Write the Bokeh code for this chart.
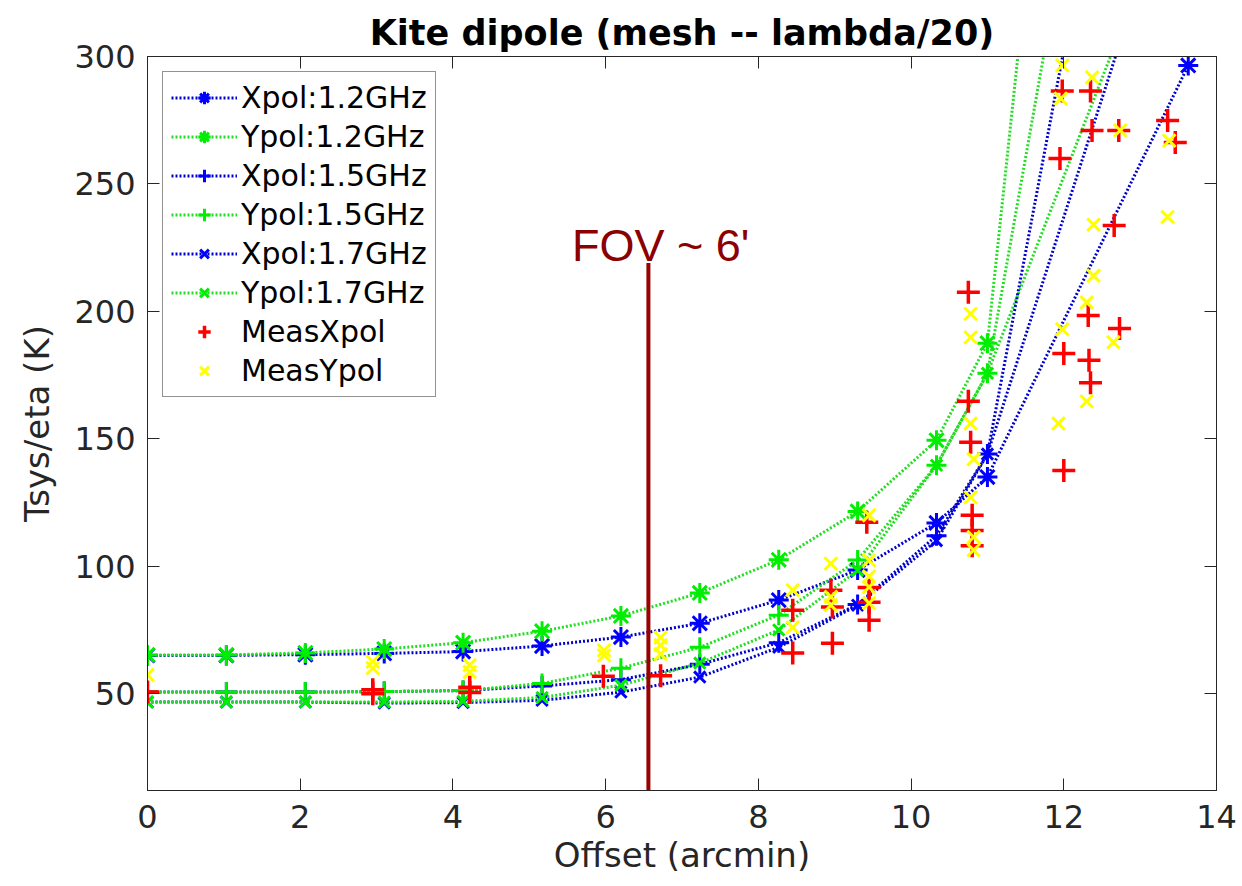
from bokeh.plotting import figure
from bokeh.models import Range1d, LinearAxis, FixedTicker
from bokeh.embed import file_html
from bokeh.resources import INLINE
from bokeh.core.properties import value

# ---------------- data ----------------
title_text = "Kite dipole (mesh -- lambda/20)"
x_label = "Offset (arcmin)"
y_label = "Tsys/eta (K)"
x_ticks = [0, 2, 4, 6, 8, 10, 12, 14]
y_ticks = [50, 100, 150, 200, 250, 300]

x_base = [0, 1.033, 2.067, 3.1, 4.133, 5.167, 6.2, 7.233, 8.267, 9.3, 10.333, 11.0]

xpol12_x = x_base + [13.63]
xpol12_y = [65.0, 65.0, 65.3, 65.8, 66.5, 68.7, 72.2, 77.6, 86.7, 98.5, 117.0, 135.0, 296.5]

ypol12_x = x_base + [12.0]
ypol12_y = [65.2, 65.2, 66.0, 67.5, 70.0, 74.5, 80.5, 89.5, 102.5, 121.5, 149.4, 187.5, 470.0]

xpol15_x = x_base + [13.0]
xpol15_y = [50.6, 50.6, 50.6, 50.8, 51.2, 53.0, 55.5, 61.5, 70.0, 85.0, 112.0, 144.0, 330.0]

ypol15_x = x_base + [13.0]
ypol15_y = [50.6, 50.6, 50.6, 50.8, 51.2, 54.0, 60.0, 68.2, 80.8, 102.4, 139.6, 175.7, 330.0]

xpol17_x = x_base + [12.3]
xpol17_y = [46.7, 46.7, 46.7, 46.3, 46.5, 47.4, 50.6, 56.5, 68.2, 84.7, 110.0, 144.0, 350.0]

ypol17_x = x_base + [12.0]
ypol17_y = [46.7, 46.7, 46.7, 46.7, 47.0, 48.5, 53.3, 62.0, 75.0, 98.4, 139.6, 175.7, 345.0]

meas_x_off = [0.0, 2.95, 2.95, 4.22, 4.22, 5.97, 6.72,
              8.45, 8.45, 8.95, 8.97, 8.97,
              9.42, 9.45, 9.45, 9.45,
              10.75, 10.75, 10.78, 10.8, 10.8, 10.8,
              11.98, 11.95, 12.0, 12.0,
              12.35, 12.37, 12.32, 12.33, 12.35,
              12.72, 12.66, 12.73,
              13.36, 13.46]
meas_x_val = [50.6, 51.5, 50.0, 52.5, 50.5, 56.8, 57.0,
              82.7, 66.0, 90.6, 84.0, 69.8,
              117.3, 91.7, 85.9, 78.8,
              207.5, 164.7, 148.6, 120.0, 114.0, 108.0,
              286.5, 260.0, 183.5, 137.6,
              286.5, 271.0, 198.4, 180.8, 172.0,
              271.0, 233.7, 193.3,
              274.9, 266.3]

meas_y_off = [0.0, 2.95, 2.95, 4.22, 4.22, 5.98, 5.98, 6.72, 6.72, 6.72,
              8.45, 8.45, 8.95, 8.95, 8.95,
              9.45, 9.45, 9.45, 9.45, 9.45,
              10.78, 10.78, 10.78, 10.82, 10.78, 10.82, 10.82,
              11.98, 11.96, 11.98, 11.93,
              12.37, 12.39, 12.39, 12.3, 12.3,
              12.74, 12.65,
              13.38, 13.36]
meas_y_val = [57.3, 60.0, 62.5, 61.2, 58.5, 65.0, 67.0, 72.0, 69.0, 65.5,
              90.6, 76.0, 101.0, 88.0, 84.7,
              120.0, 102.3, 96.0, 91.8, 85.5,
              199.0, 189.8, 156.0, 142.0, 127.0, 111.4, 106.3,
              296.5, 283.5, 193.0, 156.0,
              291.8, 234.0, 214.0, 203.5, 164.7,
              271.0, 187.9,
              267.0, 237.0]

fov_x = 6.56
fov_y0 = 12.0
fov_y1 = 219.0
fov_label = "FOV ~ 6'"
fov_label_x = 6.72
fov_label_y = 225.8

# ---------------- styles ----------------
BLUE_L = "#0000cc"
BLUE_M = "#0000ff"
GREEN_L = "#22dd22"
GREEN_M = "#00ee00"
DARK = "#262626"
FONT = "DejaVu Sans"

p = figure(width=1242, height=886, output_backend="svg", toolbar_location=None,
           x_range=Range1d(0, 14), y_range=Range1d(12, 300),
           min_border_left=147, min_border_right=26, min_border_top=56, min_border_bottom=96,
           background_fill_color="white", border_fill_color="white")

p.title.text = title_text
p.title.align = "center"
p.title.text_font = FONT
p.title.text_font_size = "35px"
p.title.text_font_style = "bold"
p.title.text_color = "black"
p.title.standoff = 8

p.xgrid.visible = False
p.ygrid.visible = False
p.outline_line_color = DARK
p.outline_line_width = 1

for ax in (p.xaxis[0], p.yaxis[0]):
    ax.major_tick_in = 12
    ax.major_tick_out = 0
    ax.minor_tick_in = 0
    ax.minor_tick_out = 0
    ax.axis_line_color = DARK
    ax.major_tick_line_color = DARK
    ax.major_label_text_color = DARK
    ax.major_label_text_font = FONT
    ax.major_label_text_font_size = "32px"
    ax.axis_label_text_font = FONT
    ax.axis_label_text_font_size = "34px"
    ax.axis_label_text_font_style = "normal"
    ax.axis_label_text_color = DARK

p.xaxis[0].ticker = FixedTicker(ticks=x_ticks)
p.yaxis[0].ticker = FixedTicker(ticks=y_ticks)
p.xaxis[0].axis_label = x_label
p.yaxis[0].axis_label = y_label
p.xaxis[0].major_label_standoff = 14
p.yaxis[0].major_label_standoff = 12
p.xaxis[0].axis_label_standoff = 4
p.yaxis[0].axis_label_standoff = 14

top_ax = LinearAxis(ticker=FixedTicker(ticks=x_ticks),
                    major_label_overrides={t: "" for t in x_ticks},
                    major_tick_in=12, major_tick_out=0, minor_tick_in=0, minor_tick_out=0,
                    axis_line_color=DARK, major_tick_line_color=DARK, major_label_standoff=0)
right_ax = LinearAxis(ticker=FixedTicker(ticks=y_ticks),
                      major_label_overrides={t: "" for t in y_ticks},
                      major_tick_in=12, major_tick_out=0, minor_tick_in=0, minor_tick_out=0,
                      axis_line_color=DARK, major_tick_line_color=DARK, major_label_standoff=0)
p.add_layout(top_ax, "above")
p.add_layout(right_ax, "right")

series = [
    (xpol12_x, xpol12_y, BLUE_L, BLUE_M, "asterisk", 20, "Xpol:1.2GHz"),
    (ypol12_x, ypol12_y, GREEN_L, GREEN_M, "asterisk", 20, "Ypol:1.2GHz"),
    (xpol15_x, xpol15_y, BLUE_L, BLUE_M, "cross", 20, "Xpol:1.5GHz"),
    (ypol15_x, ypol15_y, GREEN_L, GREEN_M, "cross", 20, "Ypol:1.5GHz"),
    (xpol17_x, xpol17_y, BLUE_L, BLUE_M, "x", 16, "Xpol:1.7GHz"),
    (ypol17_x, ypol17_y, GREEN_L, GREEN_M, "x", 16, "Ypol:1.7GHz"),
]
for xs, ys, lc, mc, mk, sz, lab in series:
    p.line(xs, ys, line_color=lc, line_width=3, line_dash="2 2", legend_label=lab)
    p.scatter(xs, ys, marker=mk, size=sz, line_color=mc, line_width=3, legend_label=lab)

p.scatter(meas_x_off, meas_x_val, marker="cross", size=23, line_color="#ff0000",
          line_width=3.5, legend_label="MeasXpol")
p.scatter(meas_y_off, meas_y_val, marker="x", size=18, line_color="#ffff00",
          line_width=3, legend_label="MeasYpol")

p.segment(x0=[fov_x], y0=[fov_y0], x1=[fov_x], y1=[fov_y1], line_color="#990000", line_width=4)
p.text(x=[fov_label_x], y=[fov_label_y], text=[fov_label], text_font=value("Liberation Sans"),
       text_font_size="45px", text_color="#8b0000", text_align="center", text_baseline="alphabetic")

lg = p.legend[0]
lg.location = "top_left"
lg.margin = 15
lg.padding = 8
lg.spacing = 4
lg.glyph_height = 31
lg.label_height = 31
lg.glyph_width = 66
lg.label_standoff = 4
lg.label_text_font = FONT
lg.label_text_font_size = "30px"
lg.label_text_color = "black"
lg.border_line_color = DARK
lg.border_line_width = 1
lg.background_fill_alpha = 1.0

open("out.html", "w").write(file_html(p, INLINE))
